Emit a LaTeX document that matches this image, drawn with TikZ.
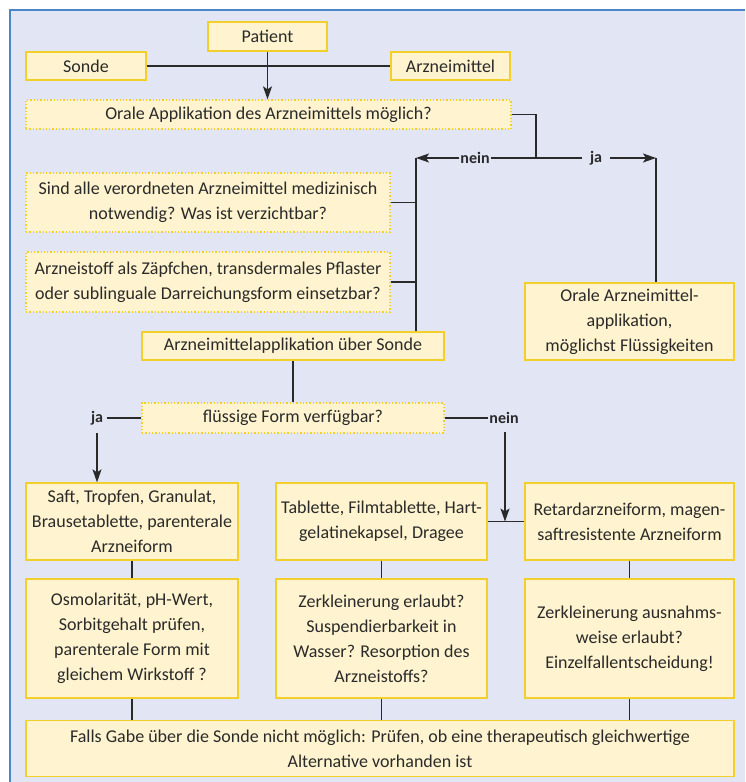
\documentclass[tikz,border=0pt]{standalone}
\usepackage{fontspec}
\setmainfont{Carlito}
\usetikzlibrary{arrows.meta}
\definecolor{bg}{HTML}{E1E5F4}
\definecolor{frameblue}{HTML}{4A86C8}
\definecolor{boxfill}{HTML}{FFF4CF}
\definecolor{boxline}{HTML}{F2CF2A}
\definecolor{ink}{HTML}{2A2A2A}
\tikzset{
  bx/.style={draw=boxline, fill=boxfill, line width=1.3pt, align=center, inner sep=0pt,
    text=ink, font=\fontsize{18}{25}\selectfont},
  dbx/.style={bx, dotted, line width=1.3pt},
  conn/.style={draw=ink, line width=1.3pt},
  arr/.style={conn, -{Stealth[length=13pt,width=9pt,inset=3pt]}},
  lbl/.style={fill=bg, inner xsep=4pt, inner ysep=2pt, text=ink, font=\fontsize{16}{20}\selectfont\bfseries}
}
\begin{document}
\begin{tikzpicture}[x=1pt,y=-1pt]
\useasboundingbox (0,0) rectangle (745,782);
\fill[white] (0,0) rectangle (745,782);
\fill[bg] (10,10) rectangle (745,782);
\draw[frameblue, line width=1.5pt] (10,782) -- (10,10) -- (745,10);

% nodes
\node[bx, minimum width=119pt, minimum height=29pt] (patient) at (267.5,36.5) {Patient};
\node[bx, minimum width=120pt, minimum height=28pt] (sonde) at (86,66) {Sonde};
\node[bx, minimum width=119pt, minimum height=28pt] (arznei) at (450.5,66) {Arzneimittel};
\node[dbx, minimum width=485pt, minimum height=29pt] (oral) at (268.5,114.5) {Orale Applikation des Arzneimittels möglich?};
\node[dbx, minimum width=364pt, minimum height=59pt] (sind) at (208,202.5) {Sind alle verordneten Arzneimittel medizinisch\\notwendig? Was ist verzichtbar?};
\node[dbx, minimum width=364pt, minimum height=60pt] (stoff) at (208,282) {Arzneistoff als Zäpfchen, transdermales Pflaster\\oder sublinguale Darreichungsform einsetzbar?};
\node[bx, minimum width=302pt, minimum height=28pt] (appl) at (293,346) {Arzneimittelapplikation über Sonde};
\node[bx, minimum width=209pt, minimum height=77pt] (oralappl) at (629.5,321.5) {Orale Arzneimittel-\\applikation,\\möglichst Flüssigkeiten};
\node[dbx, minimum width=302pt, minimum height=30pt] (fl) at (293,418) {flüssige Form verfügbar?};
\node[bx, minimum width=212pt, minimum height=77pt] (saft) at (132,521.5) {Saft, Tropfen, Granulat,\\Brausetablette, parenterale\\Arzneiform};
\node[bx, minimum width=211pt, minimum height=77pt] (tab) at (381.5,521.5) {Tablette, Filmtablette, Hart-\\gelatinekapsel, Dragee};
\node[bx, minimum width=209pt, minimum height=77pt] (ret) at (629.5,521.5) {Retardarzneiform, magen-\\saftresistente Arzneiform};
\node[bx, minimum width=212pt, minimum height=119pt] (osmo) at (132,638.5) {Osmolarität, pH-Wert,\\Sorbitgehalt prüfen,\\parenterale Form mit\\gleichem Wirkstoff ?};
\node[bx, minimum width=211pt, minimum height=119pt] (zerk) at (381.5,638.5) {Zerkleinerung erlaubt?\\Suspendierbarkeit in\\Wasser? Resorption des\\Arzneistoffs?};
\node[bx, minimum width=209pt, minimum height=119pt] (zerk2) at (629.5,638.5) {Zerkleinerung ausnahms-\\weise erlaubt?\\Einzelfallentscheidung!};
\node[bx, minimum width=708pt, minimum height=56pt] (final) at (380,748.5) {Falls Gabe über die Sonde nicht möglich: Prüfen, ob eine therapeutisch gleichwertige\\Alternative vorhanden ist};

% labels and junctions
\coordinate (j1) at (536,158);
\coordinate (cL) at (416,158);
\coordinate (cR) at (656,158);
\node[lbl, inner xsep=1pt] (nein1) at (475,158) {nein};
\node[lbl, inner xsep=8pt] (ja1) at (596,158) {ja};
\node[lbl] (ja2) at (97,418) {ja};
\node[lbl, inner xsep=1pt] (nein2) at (504,418) {nein};
\coordinate (j2) at (505,521.5);

% connectors
\draw[conn] (sonde.east) -- (arznei.west);
\draw[arr] (patient.south) -- (patient.south |- oral.north);
\draw[conn] (oral.east) -| (j1);
\draw[conn] (j1) -- (nein1.east);
\draw[arr] (nein1.west) -- (cL);
\draw[conn] (j1) -- (ja1.west);
\draw[arr] (ja1.east) -- (cR);
\draw[conn] (cL) -- (cL |- appl.north);
\draw[conn] (sind.east) -- (sind.east -| cL);
\draw[conn] (stoff.east) -- (stoff.east -| cL);
\draw[conn] (cR) -- (cR |- oralappl.north);
\draw[conn] (appl.south) -- (fl.north);
\draw[conn] (fl.west) -- (ja2.east);
\draw[arr] (ja2.south) ++(0,6) -- (ja2.south |- saft.north);
\draw[conn] (fl.east) -- (nein2.west);
\draw[arr] (j2 |- nein2.south) ++(0,6) -- (j2);
\draw[conn] (tab.east) -- (ret.west);
\draw[conn] (saft.south) -- (osmo.north);
\draw[conn] (tab.south) -- (zerk.north);
\draw[conn] (ret.south) -- (zerk2.north);
\draw[conn] (osmo.south) -- (osmo.south |- final.north);
\draw[conn] (zerk.south) -- (zerk.south |- final.north);
\draw[conn] (zerk2.south) -- (zerk2.south |- final.north);
\end{tikzpicture}
\end{document}
